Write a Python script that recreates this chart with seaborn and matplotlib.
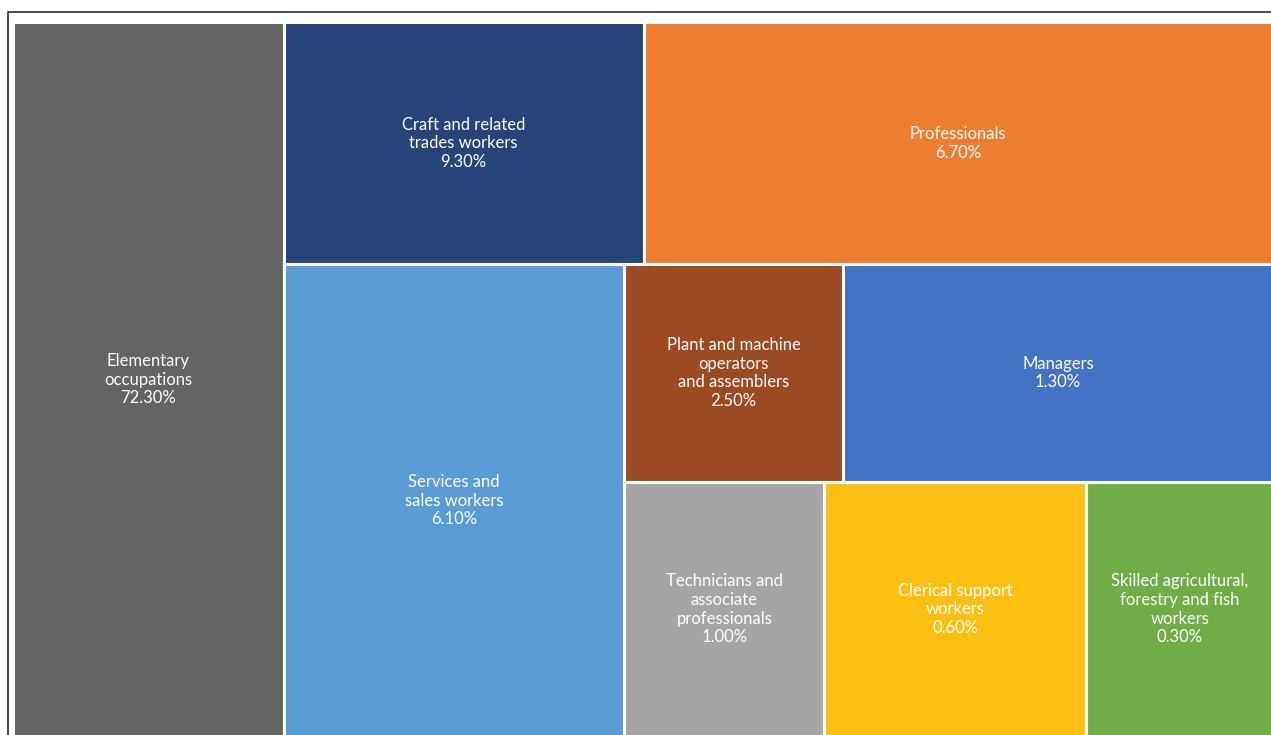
import matplotlib
matplotlib.use("Agg")
import matplotlib.pyplot as plt
import seaborn as sns
from matplotlib.patches import Rectangle

# Occupation groups, their share labels and tile sizes
occupations = [
    "Elementary\noccupations",
    "Craft and related\ntrades workers",
    "Professionals",
    "Services and\nsales workers",
    "Plant and machine\noperators\nand assemblers",
    "Managers",
    "Technicians and\nassociate\nprofessionals",
    "Clerical support\nworkers",
    "Skilled agricultural,\nforestry and fish\nworkers",
]
share_pct = [72.3, 9.3, 6.7, 6.1, 2.5, 1.3, 1.0, 0.6, 0.3]
tile_size = [21.47, 9.69, 16.94, 17.88, 5.26, 10.36, 5.67, 7.43, 5.29]
colors = ["#636562", "#264478", "#ED7D31", "#5B9BD5", "#9C4A22",
          "#4472C4", "#A5A5A5", "#FBC012", "#70AD47"]

# Nested slice layout: ("h", ...) splits left-to-right, ("v", ...) top-to-bottom
layout = ("h", [0, ("v", [("h", [1, 2]),
                          ("h", [3, ("v", [("h", [4, 5]),
                                           ("h", [6, 7, 8])])])])])


def total(node):
    if isinstance(node, int):
        return tile_size[node]
    return sum(total(c) for c in node[1])


def place(node, x, y, w, h, out):
    if isinstance(node, int):
        out[node] = (x, y, w, h)
        return
    direction, children = node
    s = total(node)
    for child in children:
        frac = total(child) / s
        if direction == "h":
            place(child, x, y, w * frac, h, out)
            x += w * frac
        else:
            place(child, x, y, w, h * frac, out)
            y += h * frac


rects = {}
place(layout, 0.0, 0.0, 1.0, 1.0, rects)

sns.set_theme(style="white")
plt.rcParams["font.family"] = ["Lato", "DejaVu Sans"]

W, H = 1271, 735
fig = plt.figure(figsize=(W / 100, H / 100), dpi=100)
fig.patch.set_facecolor("white")

# Outer chart frame
fig.add_artist(Rectangle((7.5 / W, -0.1), 1.2, (H - 11.5) / H + 0.1,
                         transform=fig.transFigure, fill=False,
                         edgecolor="#1a1a1a", linewidth=1.1))

ax = fig.add_axes([13 / W, -2 / H, 1260 / W, 715 / H])
ax.set_xlim(0, 1)
ax.set_ylim(1, 0)
ax.set_axis_off()

for i, label in enumerate(occupations):
    x, y, w, h = rects[i]
    ax.bar(x, h, width=w, bottom=y, align="edge", color=colors[i],
           edgecolor="white", linewidth=2.2)
    ax.text(x + w / 2, y + h / 2, f"{label}\n{share_pct[i]:.2f}%",
            ha="center", va="center", color="white", fontsize=12,
            linespacing=1.2)

fig.savefig("out.png", dpi=100, facecolor="white")
